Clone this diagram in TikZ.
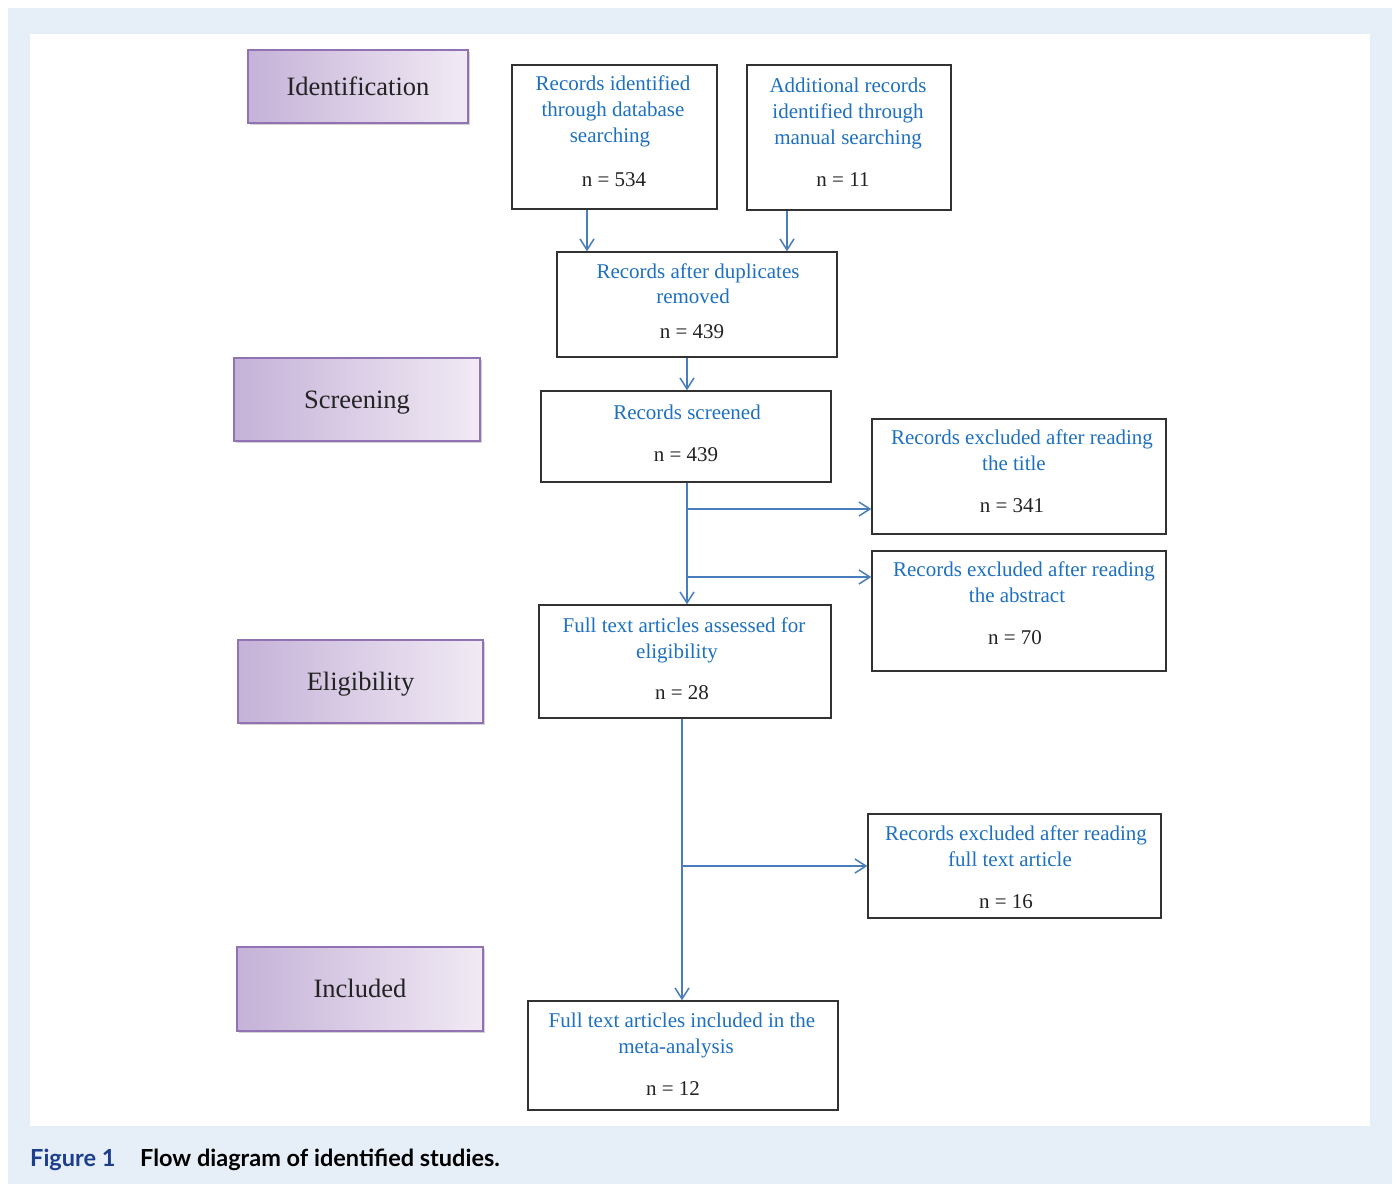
\documentclass[tikz,border=0pt]{standalone}
\usepackage{fontspec}
\setmainfont{Liberation Serif}
\newfontfamily\capfont{Lato}
\usetikzlibrary{arrows.meta,shadows}
\definecolor{bgblue}{RGB}{230,238,248}
\definecolor{txtblue}{RGB}{30,112,192}
\definecolor{arrblue}{RGB}{74,126,187}
\definecolor{boxgray}{RGB}{50,50,50}
\definecolor{darktxt}{RGB}{35,35,35}
\definecolor{stageL}{RGB}{197,178,216}
\definecolor{stageR}{RGB}{241,234,244}
\definecolor{stageB}{RGB}{145,115,180}
\definecolor{capblue}{RGB}{28,62,140}
\begin{document}
\begin{tikzpicture}[x=1pt,y=-1pt,
  flowbox/.style={draw=boxgray, line width=1.4pt, rectangle, inner sep=0pt},
  stagebox/.style={draw=stageB, line width=1.2pt, rectangle, inner sep=0pt,
     left color=stageL, right color=stageR,
     drop shadow={shadow xshift=2pt, shadow yshift=-2pt, opacity=0.35, fill=gray},
     font=\fontsize{26.5}{31}\selectfont, text=darktxt, text height=17pt, text depth=0pt},
  bt/.style={anchor=base, inner sep=0pt, font=\fontsize{21}{26}\selectfont, text=txtblue},
  nt/.style={anchor=base, inner sep=0pt, font=\fontsize{21}{26}\selectfont, text=darktxt},
  arr/.style={draw=arrblue, line width=1.5pt, -{Straight Barb[length=11pt,width=14pt,line width=1.5pt]}},
  ln/.style={draw=arrblue, line width=1.5pt}
]
\useasboundingbox (0,0) rectangle (1396,1184);
\fill[bgblue] (8,8) rectangle (1392,1184);
\fill[white] (30,34) rectangle (1370,1126);

% stage boxes
\node[stagebox, minimum width=220pt, minimum height=73pt] (sid) at (358,86.5) {Identification};
\node[stagebox, minimum width=246pt, minimum height=83pt] (ssc) at (357,399.5) {Screening};
\node[stagebox, minimum width=245pt, minimum height=83pt] (sel) at (360.5,681.5) {Eligibility};
\node[stagebox, minimum width=246pt, minimum height=84pt] (sin) at (360,989) {Included};

% flow boxes
\node[flowbox, minimum width=205pt, minimum height=144pt] (db) at (614.5,137) {};
\node[flowbox, minimum width=204pt, minimum height=145pt] (man) at (849,137.5) {};
\node[flowbox, minimum width=280pt, minimum height=105pt] (dup) at (697,304.5) {};
\node[flowbox, minimum width=290pt, minimum height=91pt] (scr) at (686,436.5) {};
\node[flowbox, minimum width=294pt, minimum height=115pt] (ext) at (1019,476.5) {};
\node[flowbox, minimum width=294pt, minimum height=120pt] (exa) at (1019,611) {};
\node[flowbox, minimum width=292pt, minimum height=113pt] (ft) at (685,661.5) {};
\node[flowbox, minimum width=293pt, minimum height=104pt] (exf) at (1014.5,866) {};
\node[flowbox, minimum width=310pt, minimum height=109pt] (inc) at (683,1055.5) {};

% texts
\node[bt] (db1) at (613,90) {Records identified};
\node[bt] (db2) at (613,116) {through database};
\node[bt] (db3) at (610,142) {searching};
\node[nt] (db4) at (614,186) {n = 534};

\node[bt] (man1) at (848,92) {Additional records};
\node[bt] (man2) at (848,118) {identified through};
\node[bt] (man3) at (848,144) {manual searching};
\node[nt] (man4) at (843,186) {n = 11};

\node[bt] (dup1) at (698,278) {Records after duplicates};
\node[bt] (dup2) at (693,303) {removed};
\node[nt] (dup3) at (692,338) {n = 439};

\node[bt] (scr1) at (687,419) {Records screened};
\node[nt] (scr2) at (686,461) {n = 439};

\node[bt] (ext1) at (1022,444) {Records excluded after reading};
\node[bt] (ext2) at (1014,470) {the title};
\node[nt] (ext3) at (1012,512) {n = 341};

\node[bt] (exa1) at (1024,576) {Records excluded after reading};
\node[bt] (exa2) at (1017,602) {the abstract};
\node[nt] (exa3) at (1015,644) {n = 70};

\node[bt] (ft1) at (684,632) {Full text articles assessed for};
\node[bt] (ft2) at (677,658) {eligibility};
\node[nt] (ft3) at (682,699) {n = 28};

\node[bt] (exf1) at (1016,840) {Records excluded after reading};
\node[bt] (exf2) at (1010,866) {full text article};
\node[nt] (exf3) at (1006,908) {n = 16};

\node[bt] (inc1) at (682,1027) {Full text articles included in the};
\node[bt] (inc2) at (676,1053) {meta-analysis};
\node[nt] (inc3) at (673,1095) {n = 12};

% connectors
\draw[arr] ([xshift=-27.5pt]db.south) -- ([xshift=-27.5pt]db.south |- dup.north);
\draw[arr] ([xshift=-62pt]man.south) -- ([xshift=-62pt]man.south |- dup.north);
\draw[arr] ([xshift=-10pt]dup.south) -- ([xshift=-10pt]dup.south |- scr.north);
\draw[arr] ([xshift=1pt]scr.south) -- ([xshift=1pt]scr.south |- ft.north);
\coordinate (b1) at (687,509);
\coordinate (b2) at (687,577);
\draw[arr] (b1) -- (b1 -| ext.west);
\draw[arr] (b2) -- (b2 -| exa.west);
\draw[arr] ([xshift=-3pt]ft.south) -- ([xshift=-3pt]ft.south |- inc.north);
\coordinate (b3) at (682,866);
\draw[arr] (b3) -- (b3 -| exf.west);

% caption
\node[anchor=base west, inner sep=0pt, font=\capfont\bfseries\fontsize{23.5}{28}\selectfont, text=capblue] (capa) at (30,1166) {Figure 1};
\node[anchor=base west, inner sep=0pt, font=\capfont\bfseries\fontsize{23.5}{28}\selectfont, text=black] (capb) at (140,1166) {Flow diagram of identified studies.};
\end{tikzpicture}
\end{document}
